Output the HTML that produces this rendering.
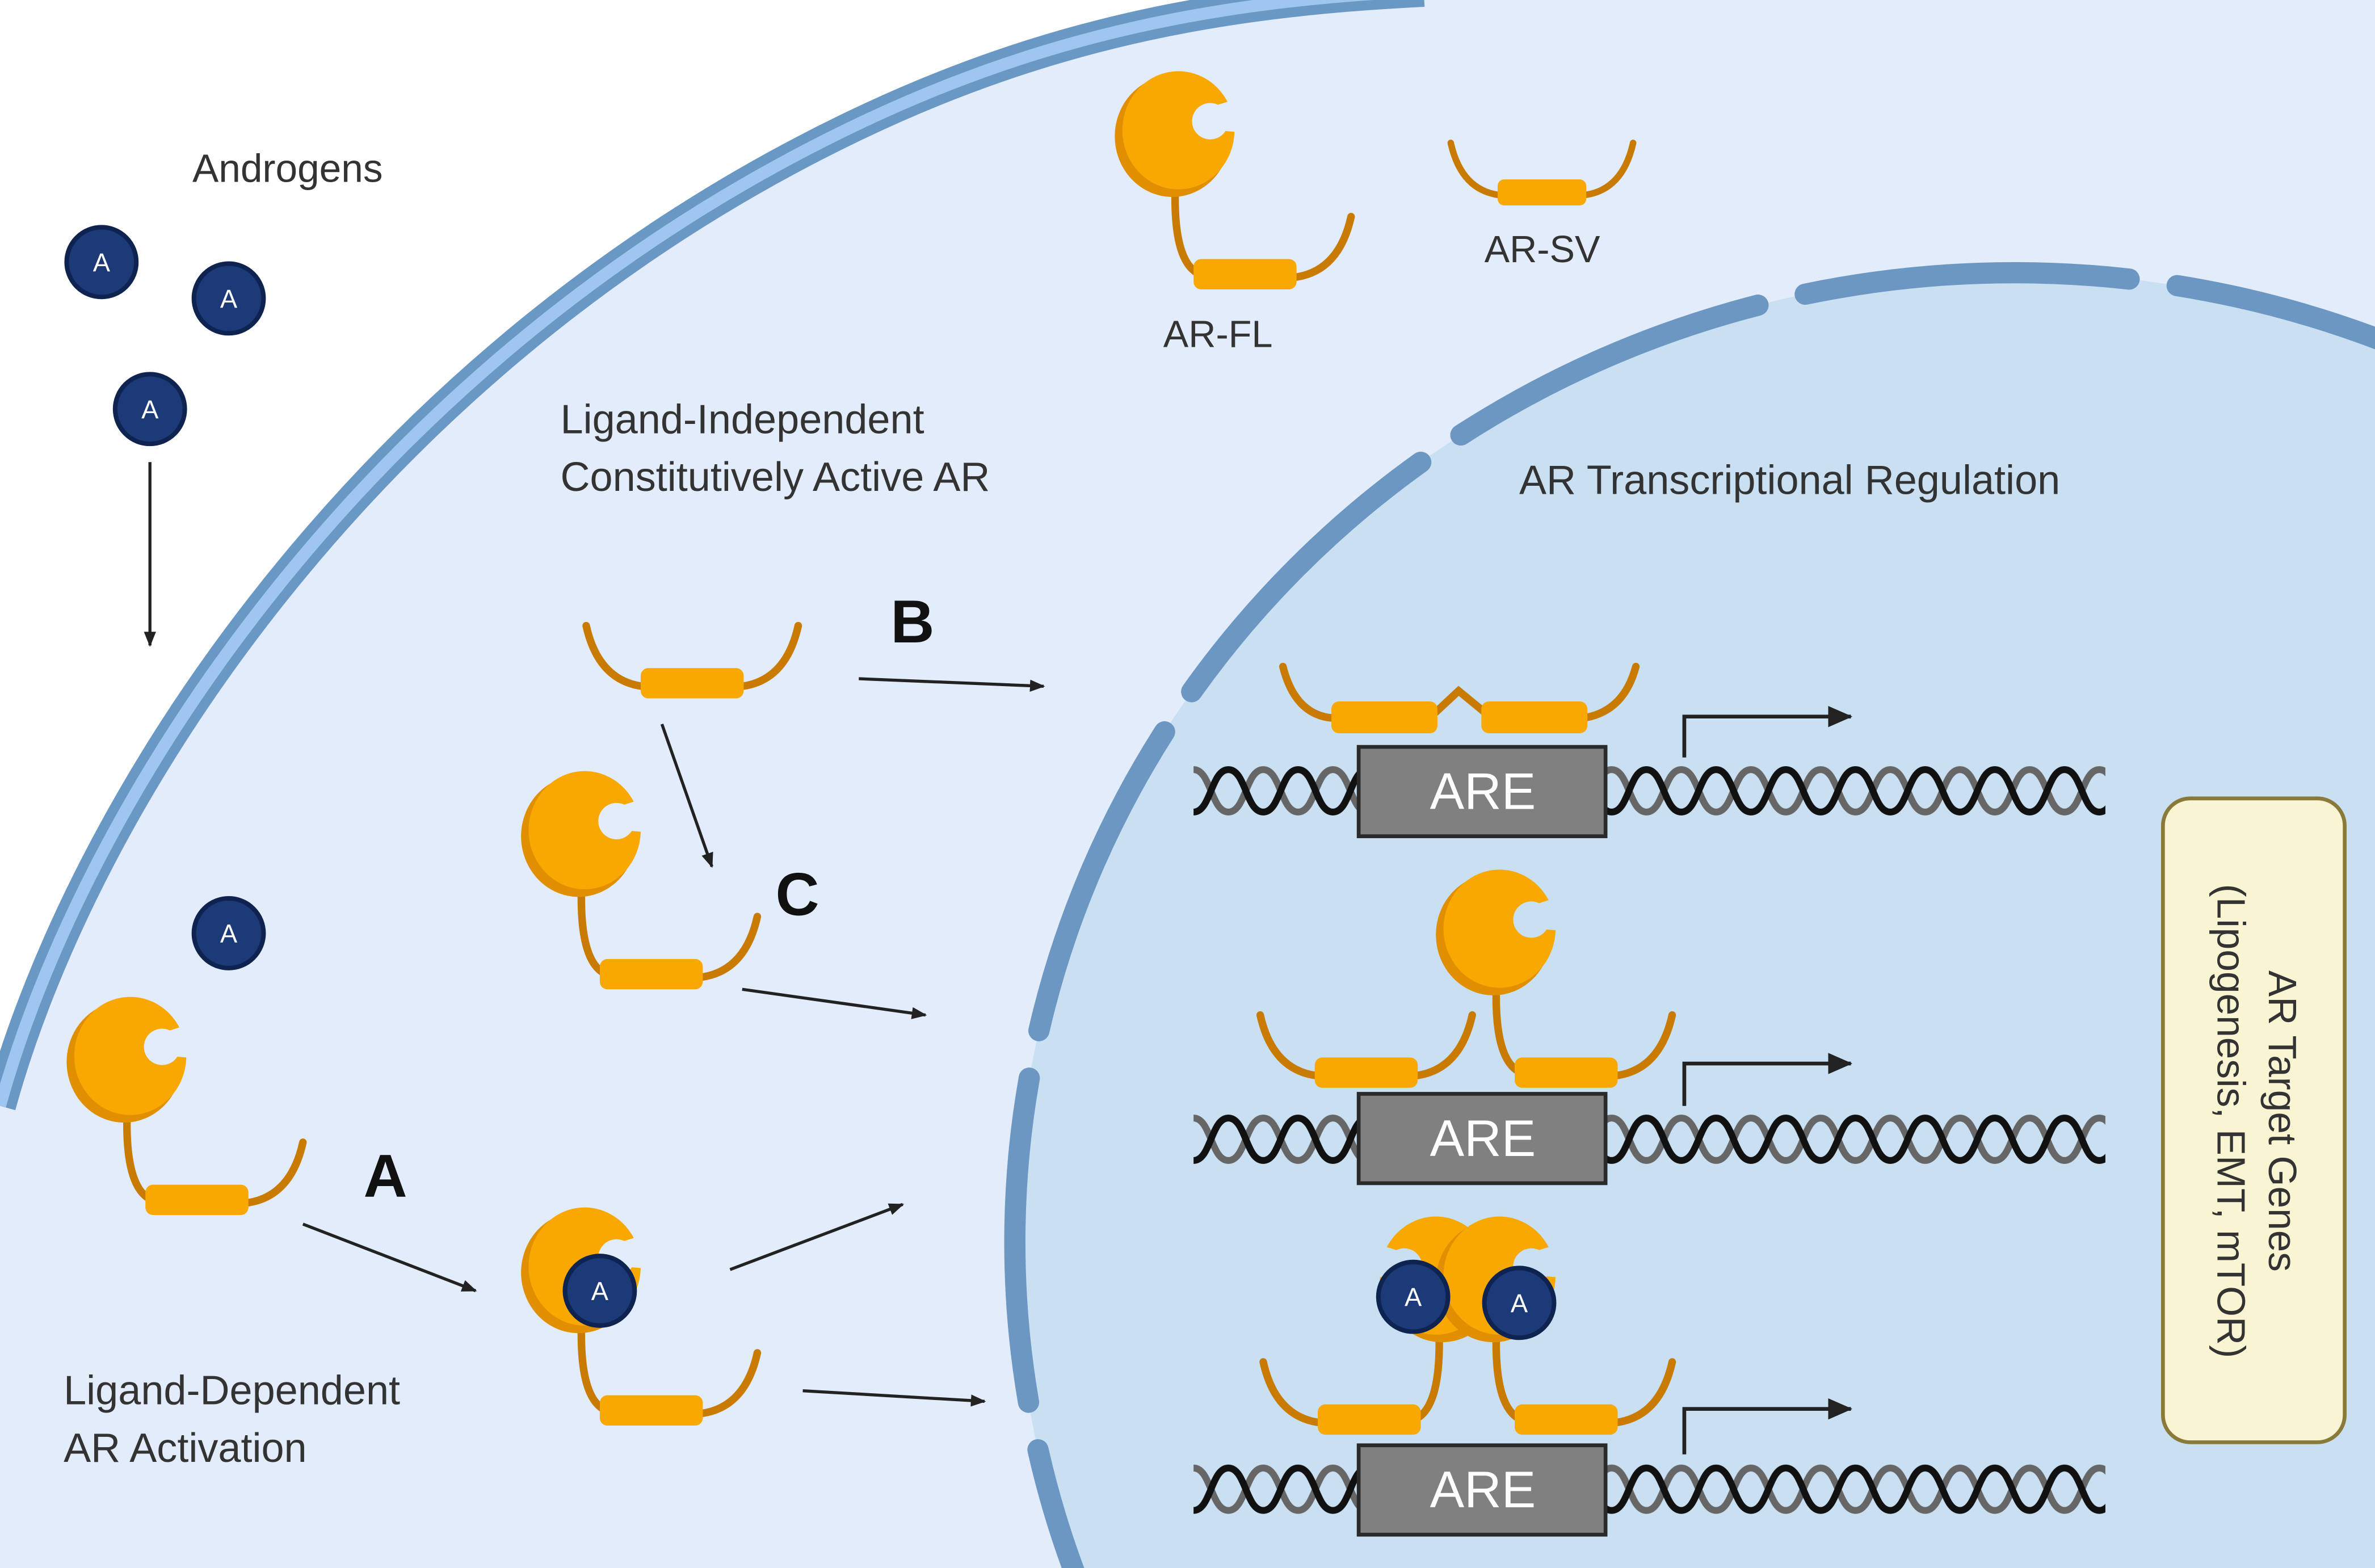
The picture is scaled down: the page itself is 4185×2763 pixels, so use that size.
<!DOCTYPE html>
<html><head><meta charset="utf-8"><style>
html,body{margin:0;padding:0;background:#fff;overflow:hidden;width:4185px;height:2763px;}
svg{display:block;}
text{font-family:"Liberation Sans",sans-serif;}
</style></head><body>
<svg width="4185" height="2763" viewBox="0 0 1568 1035" preserveAspectRatio="none" xmlns="http://www.w3.org/2000/svg">
<defs>
<marker id="ar" markerWidth="10" markerHeight="8" refX="9" refY="4" orient="auto" markerUnits="userSpaceOnUse"><path d="M0,0 L10,4 L0,8 Z" fill="#222"/></marker>
<marker id="ar2" markerWidth="16" markerHeight="14" refX="15" refY="7" orient="auto" markerUnits="userSpaceOnUse"><path d="M0,0 L16,7 L0,14 Z" fill="#222"/></marker>
<mask id="notch" maskUnits="userSpaceOnUse" x="-100" y="-100" width="200" height="200">
<rect x="-100" y="-100" width="200" height="200" fill="#fff"/>
<circle cx="22" cy="-6" r="12" fill="#000"/>
<path d="M18,-14 L50,-24 L50,2 L26,0 Z" fill="#000"/>
</mask>
<g id="head">
<g mask="url(#notch)">
<ellipse cx="-3" cy="4" rx="38" ry="40" fill="#e08f00"/>
<ellipse cx="1" cy="0" rx="37" ry="39" fill="#f8a800"/>
</g>
</g>
<g id="sv">
<path d="M-70,-38 Q-62,-2 -33,2 M33,2 Q62,-2 70,-38" fill="none" stroke="#c97a00" stroke-width="5" stroke-linecap="round"/>
<rect x="-34" y="-10" width="68" height="20" rx="5" fill="#f8a800"/>
</g>
<g id="fl">
<path d="M33,2 Q62,-2 70,-38 M-30,0 Q-48,-8 -46,-60" fill="none" stroke="#c97a00" stroke-width="5" stroke-linecap="round"/>
<rect x="-34" y="-10" width="68" height="20" rx="5" fill="#f8a800"/>
<use href="#head" transform="translate(-45,-95)"/>
</g>
<g id="ligand">
<circle r="23" fill="#1c3a78" stroke="#0e234f" stroke-width="3"/>
<text x="0" y="6" font-size="17" fill="#fff" text-anchor="middle">A</text>
</g>
<pattern id="dna" patternUnits="userSpaceOnUse" width="46" height="40" x="788" y="502">
<path d="M0,6 C11.5,6 11.5,34 23,34 C34.5,34 34.5,6 46,6" fill="none" stroke="#666" stroke-width="4.5"/>
<path d="M0,34 C11.5,34 11.5,6 23,6 C34.5,6 34.5,34 46,34" fill="none" stroke="#111" stroke-width="4.5"/>
</pattern>
</defs>

<!-- cell -->
<path d="M0,730 C55,530 240,240 560,85 C700,17 820,0 940,-6 L1568,-6 L1568,1040 L0,1040 Z" fill="#e3ecfa"/>
<path d="M0,730 C55,530 240,240 560,85 C700,17 820,0 940,-6" fill="none" stroke="#6a98c4" stroke-width="21"/>
<path d="M0,730 C55,530 240,240 560,85 C700,17 820,0 940,-6" fill="none" stroke="#9ec6ee" stroke-width="8"/>

<!-- nucleus -->
<ellipse cx="1330" cy="820" rx="660" ry="640" fill="#c9dff2"/>
<ellipse cx="1330" cy="820" rx="660" ry="640" fill="none" stroke="#6b97c2" stroke-width="14" stroke-dasharray="215 32" stroke-dashoffset="40" stroke-linecap="round"/>

<!-- labels -->
<text x="127" y="120" font-size="26" fill="#333">Androgens</text>
<text x="370" y="286" font-size="27" fill="#333">Ligand-Independent</text>
<text x="370" y="324" font-size="27" fill="#333">Constitutively Active AR</text>
<text x="1003" y="326" font-size="27" fill="#333">AR Transcriptional Regulation</text>
<text x="42" y="927" font-size="27" fill="#333">Ligand-Dependent</text>
<text x="42" y="965" font-size="27" fill="#333">AR Activation</text>
<text x="768" y="229" font-size="25" fill="#333">AR-FL</text>
<text x="980" y="173" font-size="25" fill="#333">AR-SV</text>
<text x="588" y="424" font-size="40" font-weight="bold" fill="#111">B</text>
<text x="512" y="604" font-size="40" font-weight="bold" fill="#111">C</text>
<text x="240" y="790" font-size="40" font-weight="bold" fill="#111">A</text>

<!-- ligands -->
<use href="#ligand" x="67" y="173"/>
<use href="#ligand" x="151" y="197"/>
<use href="#ligand" x="99" y="270"/>
<use href="#ligand" x="151" y="616"/>

<!-- proteins in cytoplasm -->
<use href="#fl" x="822" y="181"/>
<use href="#sv" transform="translate(1018,127) scale(0.86)"/>
<use href="#sv" x="457" y="451"/>
<use href="#fl" x="430" y="643"/>
<use href="#fl" x="130" y="792"/>
<use href="#fl" x="430" y="931"/>
<use href="#ligand" x="396" y="852"/>

<!-- arrows -->
<g stroke="#222" stroke-width="2" fill="none" marker-end="url(#ar)">
<line x1="99" y1="305" x2="99" y2="426"/>
<line x1="567" y1="448" x2="689" y2="453"/>
<line x1="437" y1="478" x2="470" y2="572"/>
<line x1="490" y1="653" x2="611" y2="670"/>
<line x1="200" y1="808" x2="314" y2="852"/>
<line x1="482" y1="838" x2="596" y2="795"/>
<line x1="530" y1="918" x2="650" y2="925"/>
</g>

<!-- DNA rows -->
<rect x="788" y="502" width="602" height="40" fill="url(#dna)"/>
<g transform="translate(0,230)"><rect x="788" y="502" width="602" height="40" fill="url(#dna)"/></g>
<g transform="translate(0,461)"><rect x="788" y="502" width="602" height="40" fill="url(#dna)"/></g>

<g>
<rect x="897" y="493" width="163" height="59" fill="#808080" stroke="#2a2a2a" stroke-width="2.5"/>
<text x="979" y="534" font-size="34" fill="#fff" text-anchor="middle">ARE</text>
<rect x="897" y="722" width="163" height="59" fill="#808080" stroke="#2a2a2a" stroke-width="2.5"/>
<text x="979" y="763" font-size="34" fill="#fff" text-anchor="middle">ARE</text>
<rect x="897" y="954" width="163" height="59" fill="#808080" stroke="#2a2a2a" stroke-width="2.5"/>
<text x="979" y="995" font-size="34" fill="#fff" text-anchor="middle">ARE</text>
</g>

<!-- promoter arrows -->
<g stroke="#222" stroke-width="2.5" fill="none" marker-end="url(#ar2)">
<path d="M1112,500 L1112,473 L1222,473"/>
<path d="M1112,730 L1112,702 L1222,702"/>
<path d="M1112,960 L1112,930 L1222,930"/>
</g>

<!-- row1 proteins -->
<path d="M847,440 Q855,472 880,474 M948,470 L963,456 L980,470 M1045,474 Q1072,470 1080,440" fill="none" stroke="#c97a00" stroke-width="5" stroke-linecap="round"/>
<rect x="879" y="463" width="70" height="21" rx="5" fill="#f8a800"/>
<rect x="978" y="463" width="70" height="21" rx="5" fill="#f8a800"/>

<!-- row2 -->
<use href="#sv" transform="translate(902,708)"/>
<use href="#fl" x="1034" y="708"/>

<!-- row3 -->
<use href="#fl" transform="translate(904,937) scale(-1,1)"/>
<use href="#fl" x="1034" y="937"/>
<use href="#ligand" x="933" y="856"/>
<use href="#ligand" x="1003" y="860"/>

<!-- target genes box -->
<rect x="1428" y="527" width="120" height="425" rx="18" fill="#f9f4d2" stroke="#8a7a3a" stroke-width="2.5"/>
<g transform="translate(1488,740) rotate(90)">
<text x="0" y="-10" font-size="26" fill="#333" text-anchor="middle">AR Target Genes</text>
<text x="0" y="24" font-size="26" fill="#333" text-anchor="middle">(Lipogenesis, EMT, mTOR)</text>
</g>
</svg>
</body></html>
